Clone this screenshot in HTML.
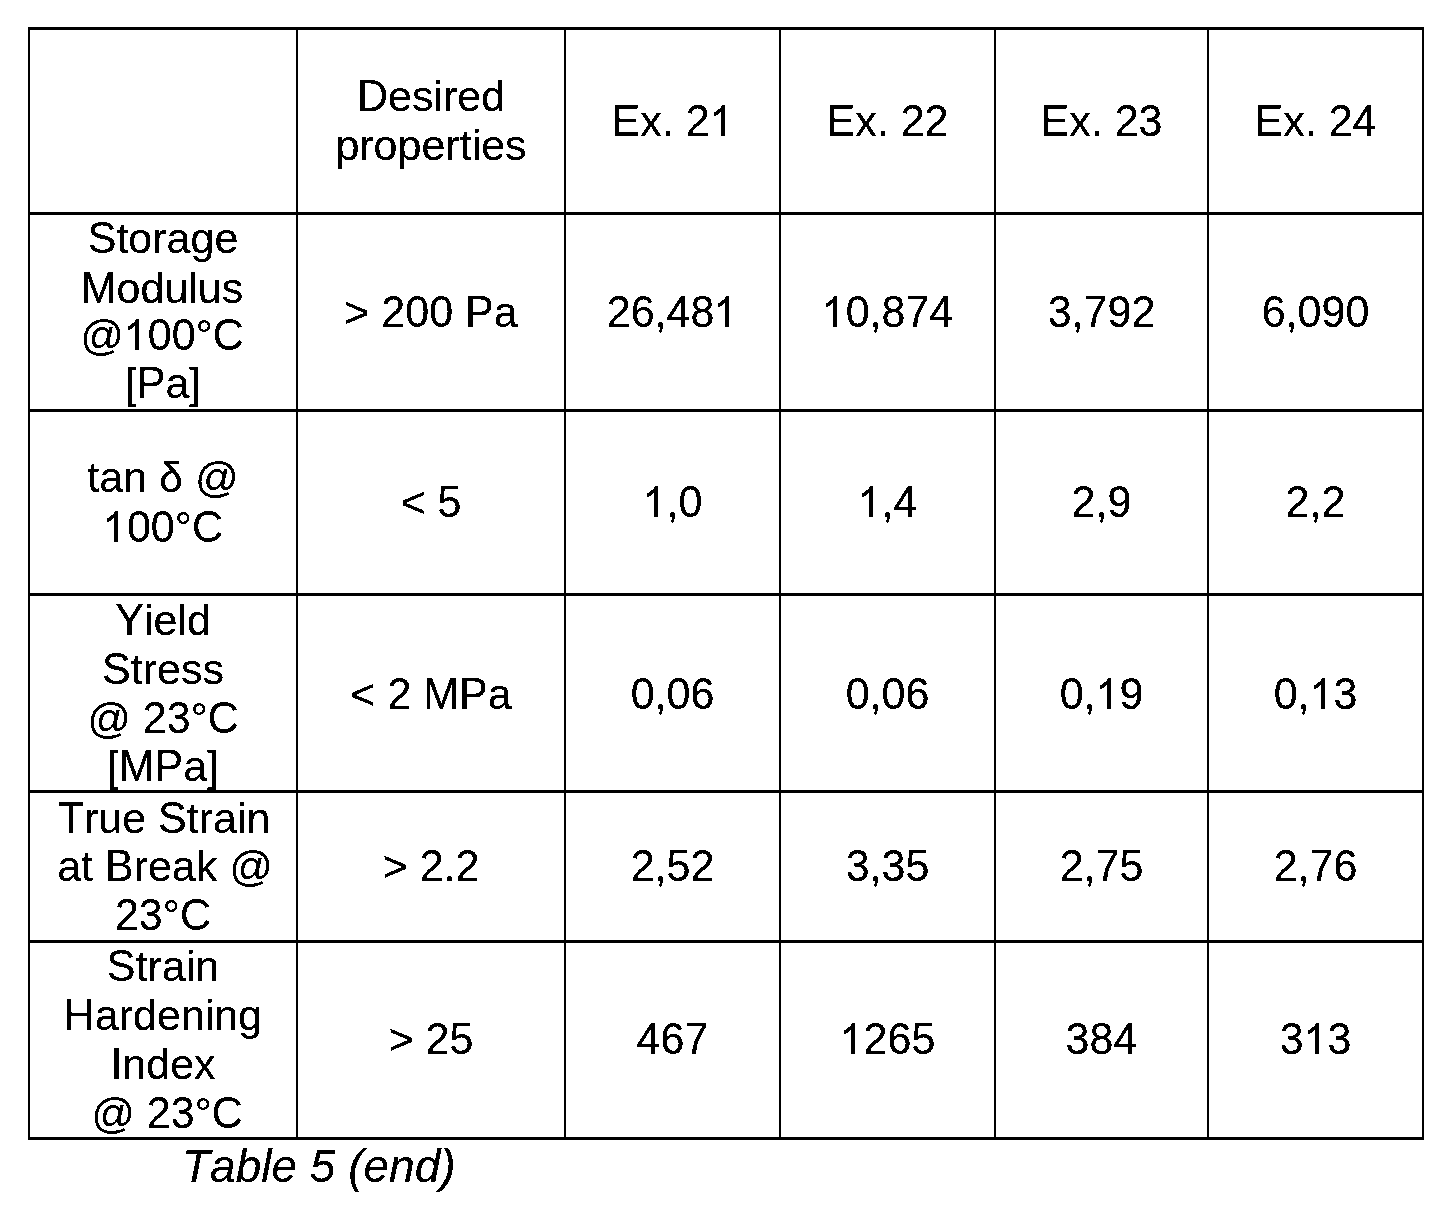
<!DOCTYPE html>
<html><head><meta charset="utf-8"><title>Table 5 (end)</title><style>
html,body{margin:0;padding:0;background:#fff}
body{width:1453px;height:1205px;overflow:hidden;position:relative;will-change:transform;font-family:"Liberation Sans",sans-serif;font-size:43px;line-height:48px;color:#000;-webkit-text-stroke:0.2px #000;font-kerning:none}
#pg{position:absolute;left:0;top:0;width:1453px;height:1205px;background:#fff;filter:url(#bw)}
.h{position:absolute;background:#000;height:3px;left:28px;width:1396px}
.v{position:absolute;background:#000;width:2px;top:27px;height:1113px}
.t{position:absolute;height:48px;text-align:center;white-space:nowrap}
.one{display:inline-block;width:0.55615em;height:0.71875em;vertical-align:baseline}
.u{display:inline-block;transform:scaleY(1.0405);transform-origin:50% 39px}
.cap{position:absolute;font-size:46px;font-style:italic;white-space:nowrap}
</style></head><body>
<svg width="0" height="0" style="position:absolute"><filter id="bw" color-interpolation-filters="sRGB"><feComponentTransfer><feFuncR type="discrete" tableValues="0 1"/><feFuncG type="discrete" tableValues="0 1"/><feFuncB type="discrete" tableValues="0 1"/></feComponentTransfer></filter></svg>
<div id="pg">
<div class="h" style="top:27px"></div>
<div class="h" style="top:212px"></div>
<div class="h" style="top:409px"></div>
<div class="h" style="top:593px"></div>
<div class="h" style="top:790px"></div>
<div class="h" style="top:940px"></div>
<div class="h" style="top:1137px"></div>
<div class="v" style="left:28px"></div>
<div class="v" style="left:296px"></div>
<div class="v" style="left:564px"></div>
<div class="v" style="left:779px"></div>
<div class="v" style="left:994px"></div>
<div class="v" style="left:1207px"></div>
<div class="v" style="left:1422px"></div>
<div class="t" style="left:298px;width:266px;top:72px"><span class="u">D</span>esired</div>
<div class="t" style="left:298px;width:266px;top:121px">properties</div>
<div class="t" style="left:566px;width:213px;top:97px"><span class="u">E</span>x. <span class="u">2</span><svg class="one" viewBox="0 0 1139 1472"><path stroke="#000" stroke-width="10" d="M715 1472L535 1472L535 325Q470 387 364.5 449Q259 511 175 542L175 368Q326 297 439 196Q552 95 599 0L715 0Z"/></svg></div>
<div class="t" style="left:781px;width:213px;top:97px"><span class="u">E</span>x. <span class="u">2</span><span class="u">2</span></div>
<div class="t" style="left:996px;width:211px;top:97px"><span class="u">E</span>x. <span class="u">2</span><span class="u">3</span></div>
<div class="t" style="left:1209px;width:213px;top:97px"><span class="u">E</span>x. <span class="u">2</span><span class="u">4</span></div>
<div class="t" style="left:30px;width:266px;top:214px"><span class="u">S</span>torage</div>
<div class="t" style="left:29px;width:266px;top:264px"><span class="u">M</span>odulus</div>
<div class="t" style="left:29px;width:266px;top:311px">@<svg class="one" viewBox="0 0 1139 1472"><path stroke="#000" stroke-width="10" d="M715 1472L535 1472L535 325Q470 387 364.5 449Q259 511 175 542L175 368Q326 297 439 196Q552 95 599 0L715 0Z"/></svg><span class="u">0</span><span class="u">0</span>°<span class="u">C</span></div>
<div class="t" style="left:30px;width:266px;top:359px">[<span class="u">P</span>a]</div>
<div class="t" style="left:298px;width:266px;top:288px">&gt; <span class="u">2</span><span class="u">0</span><span class="u">0</span> <span class="u">P</span>a</div>
<div class="t" style="left:566px;width:213px;top:288px"><span class="u">2</span><span class="u">6</span>,<span class="u">4</span><span class="u">8</span><svg class="one" viewBox="0 0 1139 1472"><path stroke="#000" stroke-width="10" d="M715 1472L535 1472L535 325Q470 387 364.5 449Q259 511 175 542L175 368Q326 297 439 196Q552 95 599 0L715 0Z"/></svg></div>
<div class="t" style="left:781px;width:213px;top:288px"><svg class="one" viewBox="0 0 1139 1472"><path stroke="#000" stroke-width="10" d="M715 1472L535 1472L535 325Q470 387 364.5 449Q259 511 175 542L175 368Q326 297 439 196Q552 95 599 0L715 0Z"/></svg><span class="u">0</span>,<span class="u">8</span><span class="u">7</span><span class="u">4</span></div>
<div class="t" style="left:996px;width:211px;top:288px"><span class="u">3</span>,<span class="u">7</span><span class="u">9</span><span class="u">2</span></div>
<div class="t" style="left:1209px;width:213px;top:288px"><span class="u">6</span>,<span class="u">0</span><span class="u">9</span><span class="u">0</span></div>
<div class="t" style="left:30px;width:266px;top:453px">tan δ @</div>
<div class="t" style="left:30px;width:266px;top:503px"><svg class="one" viewBox="0 0 1139 1472"><path stroke="#000" stroke-width="10" d="M715 1472L535 1472L535 325Q470 387 364.5 449Q259 511 175 542L175 368Q326 297 439 196Q552 95 599 0L715 0Z"/></svg><span class="u">0</span><span class="u">0</span>°<span class="u">C</span></div>
<div class="t" style="left:298px;width:266px;top:478px">&lt; <span class="u">5</span></div>
<div class="t" style="left:566px;width:213px;top:478px"><svg class="one" viewBox="0 0 1139 1472"><path stroke="#000" stroke-width="10" d="M715 1472L535 1472L535 325Q470 387 364.5 449Q259 511 175 542L175 368Q326 297 439 196Q552 95 599 0L715 0Z"/></svg>,<span class="u">0</span></div>
<div class="t" style="left:781px;width:213px;top:478px"><svg class="one" viewBox="0 0 1139 1472"><path stroke="#000" stroke-width="10" d="M715 1472L535 1472L535 325Q470 387 364.5 449Q259 511 175 542L175 368Q326 297 439 196Q552 95 599 0L715 0Z"/></svg>,<span class="u">4</span></div>
<div class="t" style="left:996px;width:211px;top:478px"><span class="u">2</span>,<span class="u">9</span></div>
<div class="t" style="left:1209px;width:213px;top:478px"><span class="u">2</span>,<span class="u">2</span></div>
<div class="t" style="left:30px;width:266px;top:596px"><span class="u">Y</span>ield</div>
<div class="t" style="left:30px;width:266px;top:645px"><span class="u">S</span>tress</div>
<div class="t" style="left:30px;width:266px;top:694px">@ <span class="u">2</span><span class="u">3</span>°<span class="u">C</span></div>
<div class="t" style="left:30px;width:266px;top:742px">[<span class="u">M</span><span class="u">P</span>a]</div>
<div class="t" style="left:298px;width:266px;top:670px">&lt; <span class="u">2</span> <span class="u">M</span><span class="u">P</span>a</div>
<div class="t" style="left:566px;width:213px;top:670px"><span class="u">0</span>,<span class="u">0</span><span class="u">6</span></div>
<div class="t" style="left:781px;width:213px;top:670px"><span class="u">0</span>,<span class="u">0</span><span class="u">6</span></div>
<div class="t" style="left:996px;width:211px;top:670px"><span class="u">0</span>,<svg class="one" viewBox="0 0 1139 1472"><path stroke="#000" stroke-width="10" d="M715 1472L535 1472L535 325Q470 387 364.5 449Q259 511 175 542L175 368Q326 297 439 196Q552 95 599 0L715 0Z"/></svg><span class="u">9</span></div>
<div class="t" style="left:1209px;width:213px;top:670px"><span class="u">0</span>,<svg class="one" viewBox="0 0 1139 1472"><path stroke="#000" stroke-width="10" d="M715 1472L535 1472L535 325Q470 387 364.5 449Q259 511 175 542L175 368Q326 297 439 196Q552 95 599 0L715 0Z"/></svg><span class="u">3</span></div>
<div class="t" style="left:31px;width:266px;top:794px"><span class="u">T</span>rue <span class="u">S</span>train</div>
<div class="t" style="left:32px;width:266px;top:842px">at <span class="u">B</span>reak @</div>
<div class="t" style="left:30px;width:266px;top:891px"><span class="u">2</span><span class="u">3</span>°<span class="u">C</span></div>
<div class="t" style="left:298px;width:266px;top:842px">&gt; <span class="u">2</span>.<span class="u">2</span></div>
<div class="t" style="left:566px;width:213px;top:842px"><span class="u">2</span>,<span class="u">5</span><span class="u">2</span></div>
<div class="t" style="left:781px;width:213px;top:842px"><span class="u">3</span>,<span class="u">3</span><span class="u">5</span></div>
<div class="t" style="left:996px;width:211px;top:842px"><span class="u">2</span>,<span class="u">7</span><span class="u">5</span></div>
<div class="t" style="left:1209px;width:213px;top:842px"><span class="u">2</span>,<span class="u">7</span><span class="u">6</span></div>
<div class="t" style="left:30px;width:266px;top:942px"><span class="u">S</span>train</div>
<div class="t" style="left:30px;width:266px;top:991px"><span class="u">H</span>ardening</div>
<div class="t" style="left:30px;width:266px;top:1040px"><span class="u">I</span>ndex</div>
<div class="t" style="left:34px;width:266px;top:1089px">@ <span class="u">2</span><span class="u">3</span>°<span class="u">C</span></div>
<div class="t" style="left:298px;width:266px;top:1015px">&gt; <span class="u">2</span><span class="u">5</span></div>
<div class="t" style="left:566px;width:213px;top:1015px"><span class="u">4</span><span class="u">6</span><span class="u">7</span></div>
<div class="t" style="left:781px;width:213px;top:1015px"><svg class="one" viewBox="0 0 1139 1472"><path stroke="#000" stroke-width="10" d="M715 1472L535 1472L535 325Q470 387 364.5 449Q259 511 175 542L175 368Q326 297 439 196Q552 95 599 0L715 0Z"/></svg><span class="u">2</span><span class="u">6</span><span class="u">5</span></div>
<div class="t" style="left:996px;width:211px;top:1015px"><span class="u">3</span><span class="u">8</span><span class="u">4</span></div>
<div class="t" style="left:1209px;width:213px;top:1015px"><span class="u">3</span><svg class="one" viewBox="0 0 1139 1472"><path stroke="#000" stroke-width="10" d="M715 1472L535 1472L535 325Q470 387 364.5 449Q259 511 175 542L175 368Q326 297 439 196Q552 95 599 0L715 0Z"/></svg><span class="u">3</span></div>
<div class="cap" style="left:182px;top:1142px">Table 5 (end)</div>
</div></body></html>
